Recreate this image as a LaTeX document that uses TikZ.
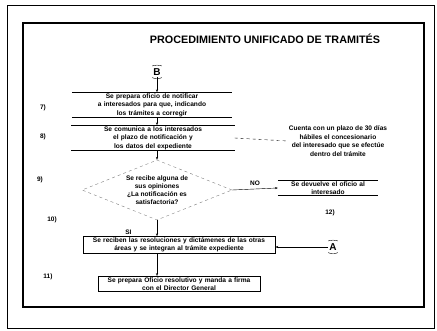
\documentclass[tikz,border=0pt]{standalone}
\usepackage{fontspec}
\setmainfont{Liberation Sans}
\usetikzlibrary{shapes.geometric, arrows.meta, positioning}

\begin{document}
\begin{tikzpicture}[
    x=1pt, y=-1pt,
    titletext/.style={font=\fontsize{10.8}{12}\selectfont\bfseries},
    steptext/.style={align=center, inner sep=1pt, font=\fontsize{6.6}{8.5}\selectfont\bfseries},
    framed/.style={steptext, draw, line width=0.8pt},
    decision/.style={diamond, draw=black!50, dashed, thin, aspect=2.5, inner sep=0pt, minimum width=150pt, minimum height=60pt, align=center, font=\fontsize{6.6}{8}\selectfont\bfseries},
    numlabel/.style={font=\fontsize{6.5}{7}\selectfont\bfseries},
    connlabel/.style={font=\fontsize{10}{11}\selectfont\bfseries, inner sep=1pt},
    rule/.style={line width=0.8pt},
    arr/.style={-{Stealth[scale=0.6]}, thin}
]
\useasboundingbox (0,0) rectangle (437,331);

% frames of the page
\draw[thin] (7,5) rectangle (434,328);
\draw[line width=1.6pt] (23,23) rectangle (424,307);

\node[titletext] (title) at (265,39) {PROCEDIMIENTO UNIFICADO DE TRAMITÉS};

% connector B
\node[connlabel] (B) at (157,72) {B};
\draw ([yshift=1.5pt]B.north west) to[bend left=15] ([yshift=1.5pt]B.north east);
\draw ([yshift=-1pt]B.south west) to[bend right=25] ([yshift=-1pt]B.south east);

\node[steptext, text width=158pt] (s7) at (152,105) {Se prepara oficio de notificar\\a interesados para que, indicando\\los trámites a corregir};
\node[steptext, text width=161pt] (s8) at (153,138) {Se comunica a los interesados\\el plazo de notificación y\\los datos del expediente};
\node[steptext] (note) at (338,141) {Cuenta con un plazo de 30 días\\hábiles el concesionario\\del interesado que se efectúe\\dentro del trámite};
\node[decision] (d9) at (157,190) {Se recibe alguna de\\sus opiniones\\¿La notificación es\\satisfactoria?};
\node[steptext, text width=98pt] (s12) at (328,188) {Se devuelve el oficio al\\interesado};
\node[numlabel] (n12) at (330,213) {12)};
\node[framed, text width=190pt] (s10) at (179,245) {Se reciben las resoluciones y dictámenes de las otras\\áreas y se integran al trámite expediente};
\node[framed, text width=160pt] (s11) at (179,284) {Se prepara Oficio resolutivo y manda a firma\\con el Director General};

% connector A
\node[connlabel] (A) at (333,247) {A};
\draw ([yshift=1.5pt]A.north west) to[bend left=15] ([yshift=1.5pt]A.north east);
\draw ([yshift=-1pt]A.south west) to[bend right=25] ([yshift=-1pt]A.south east);

% step numbers
\node[numlabel] (n7) at (43,108) {7)};
\node[numlabel] (n8) at (43,137) {8)};
\node[numlabel] (n9) at (40,180) {9)};
\node[numlabel] (n10) at (52,220) {10)};
\node[numlabel] (n11) at (48,277) {11)};

% open boxes: only top and bottom rules
\foreach \n in {s7,s8,s12}
    \draw[rule] (\n.north west) -- (\n.north east) (\n.south west) -- (\n.south east);

\draw[arr] (B.south) -- (B.south |- s7.north);
\draw[arr] (s7.south -| B) -- (s8.north -| B);
\draw[dashed] (s8.east) -- (note.west);
\draw[arr] (s8.south -| B) -- (d9.north);
\draw[arr] (d9.east) -- node[above, numlabel] {NO} (s12.west);
\draw[arr] (d9.south) -- node[near end, left=22pt, numlabel] {SI} (d9.south |- s10.north);
\draw[arr] (A.west) -- (A.west -| s10.east);
\draw[arr] (s10.south -| B) -- (s11.north -| B);

\end{tikzpicture}
\end{document}
